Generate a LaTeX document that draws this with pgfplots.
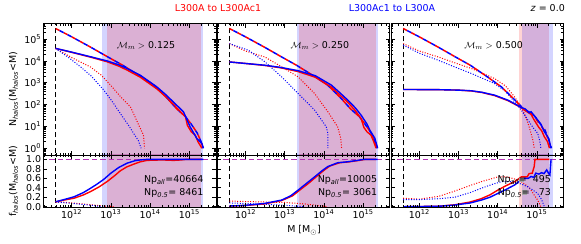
\documentclass[border=0pt]{standalone}
\usepackage{pgfplots}
\pgfplotsset{compat=1.18}
\usepackage{fontspec}
\setmainfont{DejaVu Sans}
\definecolor{mred}{rgb}{1,0,0}
\definecolor{mblue}{rgb}{0,0,1}
\definecolor{mpurp}{RGB}{180,50,180}
\newcommand{\fs}{\fontsize{9.5}{11}\selectfont}
\pgfplotsset{
 base/.style={scale only axis, width=172.7bp, xmin=11.276, xmax=15.68,
   xtick={12,13,14,15},
   minor xtick={11.301,11.477,11.602,11.699,11.778,11.845,11.903,11.954,
     12.301,12.477,12.602,12.699,12.778,12.845,12.903,12.954,
     13.301,13.477,13.602,13.699,13.778,13.845,13.903,13.954,
     14.301,14.477,14.602,14.699,14.778,14.845,14.903,14.954,
     15.301,15.477,15.602},
   axis line style={line width=0.7bp},
   major tick length=4bp, minor tick length=2.2bp,
   every tick/.style={black, line width=0.7bp},
   tick align=inside, axis on top,
   tick label style={font=\fs},
   yticklabel style={inner sep=2bp},
   xticklabel style={inner sep=2bp},
   anchor=south west},
 top/.style={base, height=131.5bp, ymin=-0.31, ymax=5.71, ytick={0,1,2,3,4,5},
   minor ytick={-0.301,-0.222,-0.155,-0.097,-0.046,
     0.301,0.477,0.602,0.699,0.778,0.845,0.903,0.954,
     1.301,1.477,1.602,1.699,1.778,1.845,1.903,1.954,
     2.301,2.477,2.602,2.699,2.778,2.845,2.903,2.954,
     3.301,3.477,3.602,3.699,3.778,3.845,3.903,3.954,
     4.301,4.477,4.602,4.699,4.778,4.845,4.903,4.954,
     5.301,5.477,5.602,5.699},
   xticklabels={}},
 bot/.style={base, height=52.2bp, ymin=-0.01, ymax=1.094, ytick={0,0.2,0.4,0.6,0.8,1.0},
   xticklabels={10\textsuperscript{12},10\textsuperscript{13},10\textsuperscript{14},10\textsuperscript{15}}},
 sol/.style={line width=1.4bp},
 dsh/.style={line width=1.5bp, dash pattern=on 4.5bp off 4.5bp},
 dsb/.style={line width=1.5bp, dash pattern=on 4.5bp off 4.5bp, dash phase=4.5bp},
 dot/.style={line width=1bp, dash pattern=on 1bp off 1.6bp},
 vdash/.style={black, line width=1.2bp, dash pattern=on 5bp off 3bp},
 hdash/.style={mpurp, line width=1.2bp, dash pattern=on 5.5bp off 3bp},
 bandb/.style={draw=none, fill=mblue, fill opacity=0.17},
 bandr/.style={draw=none, fill=mred, fill opacity=0.17},
}
\begin{document}
\begin{tikzpicture}[font=\fs]
\path[use as bounding box] (0,0) rectangle (581bp,244bp);

% ================= Panel 1 top
\begin{axis}[top, at={(43.3bp,89bp)}, yticklabels={10\textsuperscript{0},10\textsuperscript{1},10\textsuperscript{2},10\textsuperscript{3},10\textsuperscript{4},10\textsuperscript{5}}]
\addplot[bandb] coordinates {(12.77,-5) (12.77,10) (15.36,10) (15.36,-5)} -- cycle;
\addplot[bandr] coordinates {(12.90,-5) (12.90,10) (15.30,10) (15.30,-5)} -- cycle;
\addplot[vdash] coordinates {(11.59,-5) (11.59,10)};
\addplot[dot, mred] table[row sep=\\] {m n\\ 11.59 4.57\\ 12.0 4.15\\ 12.48 3.72\\ 12.75 3.35\\ 12.99 2.89\\ 13.25 2.35\\ 13.5 1.89\\ 13.7 1.1\\ 13.83 0.6\\ 13.86 0.0\\};
\addplot[dot, mblue] table[row sep=\\] {m n\\ 11.59 4.57\\ 11.9 4.18\\ 12.23 3.72\\ 12.5 3.30\\ 12.82 2.66\\ 13.05 2.1\\ 13.24 1.59\\ 13.45 1.05\\ 13.58 0.68\\ 13.7 0.35\\ 13.77 0.0\\};
\addplot[dsh, mred] table[row sep=\\] {m n\\ 11.59 5.48\\ 12.0 5.10\\ 12.5 4.61\\ 12.9 4.20\\ 13.3 3.80\\ 13.75 3.30\\ 14.1 2.88\\ 14.43 2.30\\ 14.68 1.80\\ 14.9 1.45\\ 15.05 1.10\\ 15.2 0.70\\ 15.3 0.30\\ 15.35 0.0\\};
\addplot[dsb, mblue] table[row sep=\\] {m n\\ 11.59 5.48\\ 12.0 5.10\\ 12.5 4.61\\ 12.9 4.20\\ 13.3 3.80\\ 13.75 3.30\\ 14.1 2.88\\ 14.43 2.30\\ 14.68 1.80\\ 14.9 1.45\\ 15.05 1.10\\ 15.2 0.70\\ 15.3 0.30\\ 15.35 0.0\\};
\addplot[sol, mred] table[row sep=\\] {m n\\ 11.59 4.57\\ 12.0 4.39\\ 12.5 4.16\\ 12.9 3.96\\ 13.2 3.76\\ 13.41 3.58\\ 13.75 3.25\\ 14.17 2.72\\ 14.4 2.36\\ 14.59 2.02\\ 14.8 1.62\\ 14.9 1.45\\ 14.95 1.05\\ 15.05 0.75\\ 15.15 0.6\\ 15.22 0.3\\ 15.32 0.0\\};
\addplot[sol, mblue] table[row sep=\\] {m n\\ 11.59 4.57\\ 12.0 4.40\\ 12.5 4.18\\ 12.9 4.00\\ 13.2 3.82\\ 13.41 3.65\\ 13.75 3.34\\ 14.17 2.81\\ 14.4 2.45\\ 14.59 2.12\\ 14.85 1.67\\ 15.02 0.98\\ 15.19 0.45\\ 15.32 0.22\\ 15.36 0.0\\};
\node[anchor=base] at (rel axis cs:0.595,0.81) {$\mathcal{M}_m >$ 0.125};
\end{axis}

% ================= Panel 1 bottom
\begin{axis}[bot, at={(43.3bp,36.8bp)}, yticklabels={0.0,0.2,0.4,0.6,0.8,1.0}]
\addplot[bandb] coordinates {(12.77,-5) (12.77,10) (15.36,10) (15.36,-5)} -- cycle;
\addplot[bandr] coordinates {(12.90,-5) (12.90,10) (15.30,10) (15.30,-5)} -- cycle;
\addplot[vdash] coordinates {(11.59,-5) (11.59,10)};
\addplot[hdash] coordinates {(11,1) (16,1)};
\addplot[dot, mred] table[row sep=\\] {m f\\ 11.59 0.11\\ 12.0 0.08\\ 12.5 0.04\\ 12.9 0.01\\ 13.1 0.0\\};
\addplot[dot, mblue] table[row sep=\\] {m f\\ 11.59 0.10\\ 12.0 0.07\\ 12.5 0.03\\ 12.8 0.0\\};
\addplot[sol, mred] table[row sep=\\] {m f\\ 11.59 0.1\\ 11.8 0.14\\ 12.06 0.18\\ 12.3 0.25\\ 12.48 0.32\\ 12.7 0.42\\ 12.9 0.53\\ 13.1 0.66\\ 13.24 0.76\\ 13.4 0.84\\ 13.58 0.90\\ 13.75 0.95\\ 13.92 0.98\\ 14.3 0.99\\ 14.6 0.98\\ 14.8 0.99\\ 14.9 1.0\\ 15.32 1.0\\};
\addplot[sol, mblue] table[row sep=\\] {m f\\ 11.59 0.106\\ 11.8 0.15\\ 12.06 0.21\\ 12.3 0.30\\ 12.48 0.39\\ 12.65 0.48\\ 12.82 0.58\\ 13.0 0.71\\ 13.2 0.83\\ 13.41 0.92\\ 13.6 0.97\\ 13.75 0.99\\ 13.9 1.0\\ 15.36 1.0\\};
\node[anchor=base east, inner sep=0] at (rel axis cs:0.928,0.467) {Np\textsubscript{\itshape all}=40664};
\node[anchor=base east, inner sep=0] at (rel axis cs:0.928,0.230) {Np\textsubscript{\itshape 0.5}=\hspace{0.318em}8461};
\end{axis}

% ================= Panel 2 top
\begin{axis}[top, at={(217.1bp,89bp)}, yticklabels={}]
\addplot[bandb] coordinates {(13.32,-5) (13.32,10) (15.38,10) (15.38,-5)} -- cycle;
\addplot[bandr] coordinates {(13.37,-5) (13.37,10) (15.32,10) (15.32,-5)} -- cycle;
\addplot[vdash] coordinates {(11.59,-5) (11.59,10)};
\addplot[dot, mred] table[row sep=\\] {m n\\ 11.59 4.79\\ 12.0 4.45\\ 12.49 4.18\\ 12.9 3.75\\ 13.34 3.27\\ 13.76 2.51\\ 14.1 1.67\\ 14.35 0.98\\ 14.43 0.45\\ 14.45 0.0\\};
\addplot[dot, mblue] table[row sep=\\] {m n\\ 11.59 4.79\\ 12.07 4.49\\ 12.5 3.95\\ 12.92 3.27\\ 13.34 2.51\\ 13.76 1.75\\ 14.06 0.98\\ 14.1 0.68\\ 14.1 0.0\\};
\addplot[dsh, mred] table[row sep=\\] {m n\\ 11.59 5.48\\ 12.0 5.10\\ 12.5 4.61\\ 12.9 4.20\\ 13.3 3.80\\ 13.75 3.30\\ 14.1 2.88\\ 14.43 2.30\\ 14.68 1.80\\ 14.9 1.45\\ 15.05 1.10\\ 15.2 0.70\\ 15.3 0.30\\ 15.35 0.0\\};
\addplot[dsb, mblue] table[row sep=\\] {m n\\ 11.59 5.48\\ 12.0 5.10\\ 12.5 4.61\\ 12.9 4.20\\ 13.3 3.80\\ 13.75 3.30\\ 14.1 2.88\\ 14.43 2.30\\ 14.68 1.80\\ 14.9 1.45\\ 15.05 1.10\\ 15.2 0.70\\ 15.3 0.30\\ 15.35 0.0\\};
\addplot[sol, mred] table[row sep=\\] {m n\\ 11.59 3.95\\ 12.0 3.88\\ 12.49 3.79\\ 12.9 3.68\\ 13.34 3.51\\ 13.78 3.25\\ 14.19 2.80\\ 14.4 2.45\\ 14.61 2.10\\ 14.8 1.72\\ 14.95 1.35\\ 15.02 0.95\\ 15.1 0.75\\ 15.2 0.6\\ 15.27 0.3\\ 15.33 0.0\\};
\addplot[sol, mblue] table[row sep=\\] {m n\\ 11.59 3.95\\ 12.0 3.88\\ 12.49 3.80\\ 12.9 3.70\\ 13.34 3.55\\ 13.78 3.32\\ 14.19 2.89\\ 14.4 2.55\\ 14.61 2.20\\ 14.8 1.85\\ 14.95 1.51\\ 15.1 1.1\\ 15.17 0.83\\ 15.3 0.45\\ 15.37 0.0\\};
\node[anchor=base] at (rel axis cs:0.595,0.81) {$\mathcal{M}_m >$ 0.250};
\end{axis}

% ================= Panel 2 bottom
\begin{axis}[bot, at={(217.1bp,36.8bp)}, yticklabels={}]
\addplot[bandb] coordinates {(13.32,-5) (13.32,10) (15.38,10) (15.38,-5)} -- cycle;
\addplot[bandr] coordinates {(13.37,-5) (13.37,10) (15.32,10) (15.32,-5)} -- cycle;
\addplot[vdash] coordinates {(11.59,-5) (11.59,10)};
\addplot[hdash] coordinates {(11,1) (16,1)};
\addplot[dot, mred] table[row sep=\\] {m f\\ 11.59 0.12\\ 12.0 0.11\\ 12.5 0.10\\ 13.0 0.09\\ 13.5 0.06\\ 13.8 0.03\\ 14.1 0.0\\};
\addplot[dot, mblue] table[row sep=\\] {m f\\ 11.59 0.08\\ 12.0 0.07\\ 12.5 0.05\\ 13.0 0.03\\ 13.5 0.0\\};
\addplot[sol, mred] table[row sep=\\] {m f\\ 11.59 0.015\\ 12.0 0.025\\ 12.49 0.06\\ 12.92 0.13\\ 13.2 0.23\\ 13.38 0.35\\ 13.6 0.49\\ 13.8 0.63\\ 14.0 0.77\\ 14.15 0.86\\ 14.4 0.93\\ 14.65 0.95\\ 14.9 0.98\\ 15.05 1.0\\ 15.33 1.0\\};
\addplot[sol, mblue] table[row sep=\\] {m f\\ 11.59 0.015\\ 12.0 0.03\\ 12.49 0.07\\ 12.92 0.14\\ 13.15 0.23\\ 13.34 0.35\\ 13.55 0.49\\ 13.76 0.63\\ 13.95 0.76\\ 14.1 0.85\\ 14.35 0.93\\ 14.6 0.95\\ 14.86 0.98\\ 15.0 1.0\\ 15.37 1.0\\};
\node[anchor=base east, inner sep=0] at (rel axis cs:0.928,0.467) {Np\textsubscript{\itshape all}=10005};
\node[anchor=base east, inner sep=0] at (rel axis cs:0.928,0.230) {Np\textsubscript{\itshape 0.5}=\hspace{0.318em}3061};
\end{axis}

% ================= Panel 3 top
\begin{axis}[top, at={(390.9bp,89bp)}, yticklabels={}]
\addplot[bandr] coordinates {(14.54,-5) (14.54,10) (15.32,10) (15.32,-5)} -- cycle;
\addplot[bandb] coordinates {(14.63,-5) (14.63,10) (15.41,10) (15.41,-5)} -- cycle;
\addplot[vdash] coordinates {(11.59,-5) (11.59,10)};
\addplot[dot, mred] table[row sep=\\] {m n\\ 11.59 4.79\\ 12.0 4.45\\ 12.48 4.18\\ 13.0 3.85\\ 13.33 3.65\\ 13.92 3.19\\ 14.2 2.85\\ 14.43 2.35\\ 14.58 1.95\\ 14.68 1.59\\ 14.78 1.1\\ 14.85 0.68\\ 14.9 0.35\\ 14.93 0.0\\};
\addplot[dot, mblue] table[row sep=\\] {m n\\ 11.59 4.72\\ 12.0 4.35\\ 12.48 4.03\\ 13.0 3.65\\ 13.33 3.42\\ 13.92 2.96\\ 14.2 2.6\\ 14.43 2.12\\ 14.6 1.75\\ 14.77 1.29\\ 14.9 0.95\\ 15.02 0.68\\ 15.07 0.35\\ 15.1 0.0\\};
\addplot[dsh, mred] table[row sep=\\] {m n\\ 11.59 5.48\\ 12.0 5.10\\ 12.5 4.61\\ 12.9 4.20\\ 13.3 3.80\\ 13.75 3.25\\ 14.1 2.80\\ 14.43 2.22\\ 14.68 1.76\\ 14.85 1.60\\ 14.95 1.40\\ 15.05 1.15\\ 15.2 0.80\\ 15.3 0.35\\ 15.36 0.0\\};
\addplot[dsb, mblue] table[row sep=\\] {m n\\ 11.59 5.48\\ 12.0 5.10\\ 12.5 4.61\\ 12.9 4.20\\ 13.3 3.80\\ 13.75 3.25\\ 14.1 2.80\\ 14.43 2.22\\ 14.68 1.76\\ 14.85 1.62\\ 14.95 1.45\\ 15.05 1.20\\ 15.2 0.85\\ 15.3 0.40\\ 15.37 0.0\\};
\addplot[sol, mred] table[row sep=\\] {m n\\ 11.59 2.69\\ 12.5 2.68\\ 13.0 2.66\\ 13.33 2.62\\ 13.6 2.55\\ 13.92 2.41\\ 14.26 2.18\\ 14.45 2.0\\ 14.59 1.87\\ 14.7 1.72\\ 14.85 1.55\\ 14.93 1.29\\ 15.05 0.95\\ 15.12 0.8\\ 15.19 0.52\\ 15.27 0.3\\ 15.32 0.0\\};
\addplot[sol, mblue] table[row sep=\\] {m n\\ 11.59 2.69\\ 12.5 2.68\\ 13.0 2.66\\ 13.33 2.63\\ 13.6 2.56\\ 13.92 2.43\\ 14.26 2.20\\ 14.45 2.02\\ 14.59 1.87\\ 14.7 1.80\\ 14.8 1.62\\ 14.85 1.67\\ 14.95 1.45\\ 15.02 1.29\\ 15.1 1.1\\ 15.19 0.75\\ 15.25 0.6\\ 15.3 0.45\\ 15.36 0.0\\};
\node[anchor=base] at (rel axis cs:0.595,0.81) {$\mathcal{M}_m >$ 0.500};
\end{axis}

% ================= Panel 3 bottom
\begin{axis}[bot, at={(390.9bp,36.8bp)}, yticklabels={}]
\addplot[bandr] coordinates {(14.54,-5) (14.54,10) (15.32,10) (15.32,-5)} -- cycle;
\addplot[bandb] coordinates {(14.63,-5) (14.63,10) (15.41,10) (15.41,-5)} -- cycle;
\addplot[vdash] coordinates {(11.59,-5) (11.59,10)};
\addplot[hdash] coordinates {(11,1) (16,1)};
\addplot[dot, mred] table[row sep=\\] {m f\\ 11.59 0.18\\ 11.8 0.17\\ 12.0 0.16\\ 12.5 0.22\\ 12.9 0.33\\ 13.3 0.45\\ 13.58 0.53\\ 14.0 0.63\\ 14.26 0.63\\ 14.45 0.58\\ 14.6 0.53\\ 14.75 0.44\\ 14.85 0.35\\ 14.95 0.22\\ 15.02 0.14\\ 15.1 0.0\\};
\addplot[dot, mblue] table[row sep=\\] {m f\\ 11.59 0.15\\ 12.0 0.15\\ 12.5 0.17\\ 12.9 0.2\\ 13.3 0.3\\ 13.58 0.39\\ 13.85 0.47\\ 14.1 0.53\\ 14.4 0.53\\ 14.6 0.48\\ 14.77 0.42\\ 14.9 0.35\\ 15.02 0.28\\ 15.12 0.15\\ 15.19 0.0\\};
\addplot[sol, mred] table[row sep=\\] {m f\\ 11.59 0.0\\ 12.5 0.01\\ 12.9 0.04\\ 13.3 0.1\\ 13.58 0.17\\ 13.8 0.25\\ 14.0 0.35\\ 14.2 0.44\\ 14.43 0.53\\ 14.55 0.6\\ 14.6 0.63\\ 14.75 0.63\\ 14.8 0.7\\ 14.88 0.71\\ 14.93 0.85\\ 14.95 1.0\\ 15.32 1.0\\};
\addplot[sol, mblue] table[row sep=\\] {m f\\ 11.59 0.0\\ 12.5 0.01\\ 12.9 0.035\\ 13.3 0.08\\ 13.58 0.14\\ 13.8 0.2\\ 14.0 0.28\\ 14.2 0.36\\ 14.43 0.46\\ 14.6 0.57\\ 14.68 0.6\\ 14.78 0.6\\ 14.85 0.64\\ 14.92 0.62\\ 14.97 0.71\\ 15.05 0.69\\ 15.12 0.72\\ 15.18 0.70\\ 15.25 0.78\\ 15.3 0.7\\ 15.33 0.67\\ 15.36 1.0\\};
\node[anchor=base east, inner sep=0] at (rel axis cs:0.928,0.467) {Np\textsubscript{\itshape all}\rlap{\color{gray!70}\rule[0.05em]{0.55em}{0.5em}}=\hspace{0.636em}495};
\node[anchor=base east, inner sep=0] at (rel axis cs:0.928,0.230) {Np\textsubscript{\itshape 0.5}\rlap{\color{gray!70}\rule[0.05em]{0.55em}{0.5em}}=\hspace{0.954em}73};
\end{axis}

% ================= titles and labels
\node[anchor=base, text=mred] at (218bp,232.2bp) {L300A to L300Ac1};
\node[anchor=base, text=mblue] at (392bp,232.2bp) {L300Ac1 to L300A};
\node[anchor=base east, inner sep=0] at (565bp,232.2bp) {\textit{z} = 0.0};
\node[anchor=base] at (304bp,11.2bp) {M [M\textsubscript{$\odot$}]};
\node[anchor=base, rotate=90] at (16bp,154.7bp) {N\textsubscript{\itshape halos}(M\textsubscript{\itshape halos}<M)};
\node[anchor=base, rotate=90] at (16bp,63bp) {f\textsubscript{\itshape halos}(M\textsubscript{\itshape halos}<M)};
\end{tikzpicture}
\end{document}
